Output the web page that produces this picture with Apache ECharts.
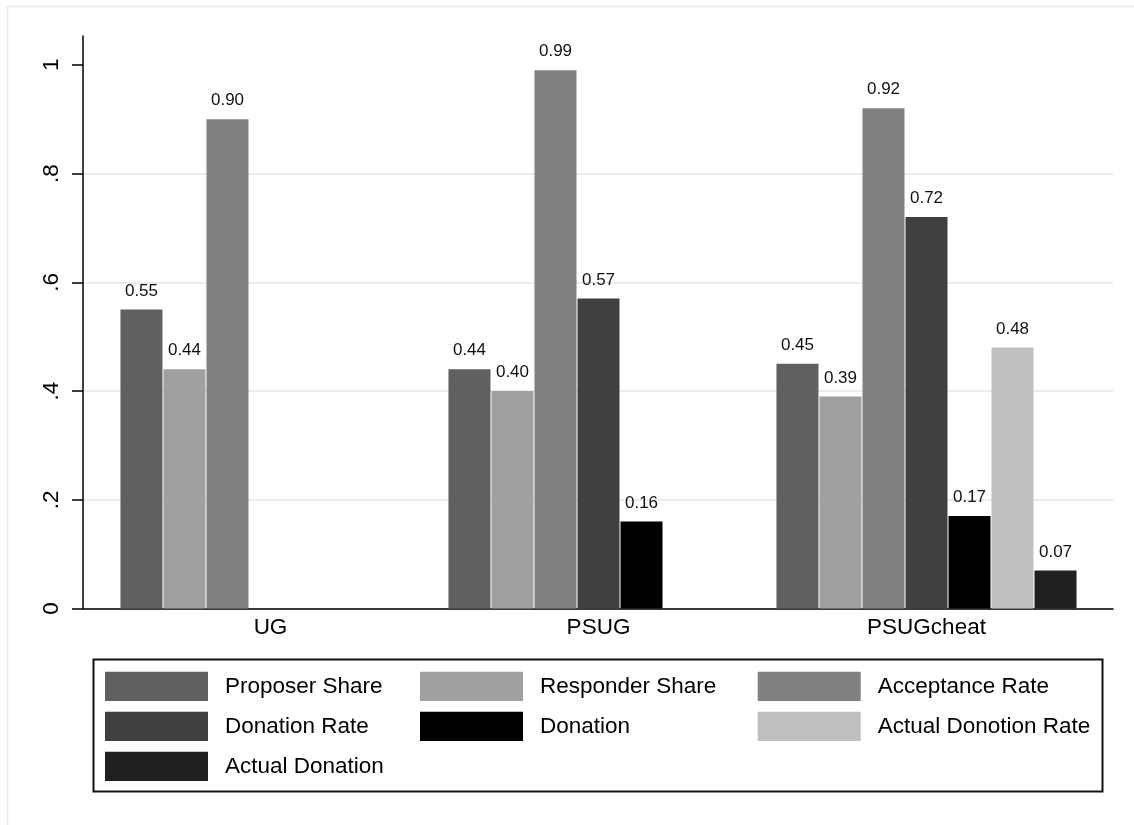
<!DOCTYPE html>
<html>
<head>
<meta charset="utf-8">
<script src="https://cdn.jsdelivr.net/npm/echarts@6.0.0/dist/echarts.min.js"></script>
<style>
html,body{margin:0;padding:0;background:#fff;}
#chart{width:1134px;height:825px;}
</style>
</head>
<body>
<div id="chart"></div>
<script>
// ---- data ----
const categories = ['UG', 'PSUG', 'PSUGcheat'];
const seriesNames = ['Proposer Share', 'Responder Share', 'Acceptance Rate', 'Donation Rate', 'Donation', 'Actual Donotion Rate', 'Actual Donation'];
const proposerShare      = [0.55, 0.44, 0.45];
const responderShare     = [0.44, 0.40, 0.39];
const acceptanceRate     = [0.90, 0.99, 0.92];
const donationRate       = [null, 0.57, 0.72];
const donation           = [null, 0.16, 0.17];
const actualDonotionRate = [null, null, 0.48];
const actualDonation     = [null, null, 0.07];
const yTickValues = [0, 0.2, 0.4, 0.6, 0.8, 1];
const yTickLabels = ['0', '.2', '.4', '.6', '.8', '1'];
const legendColumns = [
  ['Proposer Share', 'Donation Rate', 'Actual Donation'],
  ['Responder Share', 'Donation'],
  ['Acceptance Rate', 'Actual Donotion Rate']
];

// ---- styling ----
const seriesValues = [proposerShare, responderShare, acceptanceRate, donationRate, donation, actualDonotionRate, actualDonation];
const colors = ['#606060', '#a0a0a0', '#808080', '#404040', '#000000', '#c0c0c0', '#202020'];
const FONT = '"Liberation Sans", Arial, Helvetica, sans-serif';
const Y_MAX = 1.053;

const chart = echarts.init(document.getElementById('chart'), null, {renderer: 'canvas'});

const series = seriesNames.map((name, i) => ({
  name: name,
  type: 'bar',
  xAxisIndex: 1,
  yAxisIndex: 1,
  data: seriesValues[i],
  barWidth: 42,
  barGap: '2.4%',
  itemStyle: {color: colors[i]},
  label: {
    show: true,
    position: 'top',
    distance: 10,
    fontFamily: FONT,
    fontSize: 17,
    color: '#111',
    formatter: p => (p.value == null ? '' : Number(p.value).toFixed(2))
  },
  animation: false
}));

const legendLefts = [105, 420, 757.7];
const legends = legendColumns.map((col, i) => ({
  data: col.map(n => ({name: n, icon: 'rect'})),
  orient: 'vertical',
  left: legendLefts[i],
  top: 671.7,
  padding: 0,
  itemWidth: 103,
  itemHeight: 29.3,
  itemGap: 10.7,
  selectedMode: false,
  textStyle: {fontFamily: FONT, fontSize: 22.5, color: '#000', padding: [0, 0, 0, 12]}
}));

const option = {
  backgroundColor: '#fff',
  animation: false,
  color: colors,
  grid: [
    {left: 83, right: 21, top: 36, bottom: 216.5},
    {left: 106.5, right: 43.5, top: 36, bottom: 216.5}
  ],
  xAxis: [
    {
      gridIndex: 0, type: 'value', min: 0, max: 1,
      axisLine: {show: true, onZero: false, lineStyle: {color: '#000', width: 1.5}},
      axisTick: {show: false}, axisLabel: {show: false}, splitLine: {show: false}
    },
    {
      gridIndex: 1, type: 'category', data: categories,
      axisLine: {show: false}, axisTick: {show: false},
      axisLabel: {fontFamily: FONT, fontSize: 22.5, color: '#000', margin: 8}
    }
  ],
  yAxis: [
    {
      gridIndex: 0, type: 'value', min: 0, max: Y_MAX,
      axisLine: {show: true, lineStyle: {color: '#000', width: 1.5}},
      axisTick: {show: true, length: 11, lineStyle: {color: '#000', width: 1.5}, customValues: yTickValues},
      axisLabel: {
        show: true, rotate: 90, margin: 20, fontFamily: FONT, fontSize: 22.5, color: '#000',
        customValues: yTickValues,
        formatter: v => {
          const idx = yTickValues.findIndex(t => Math.abs(t - v) < 1e-6);
          return idx >= 0 ? yTickLabels[idx] : '';
        }
      },
      splitLine: {show: true, showMaxLine: false, lineStyle: {color: '#e4e4e4', width: 1.6}}
    },
    {
      gridIndex: 1, type: 'value', min: 0, max: Y_MAX, show: false,
      splitLine: {show: false}
    }
  ],
  legend: legends,
  graphic: [
    {type: 'rect', silent: true, z: -10, shape: {x: 7.5, y: 6.5, width: 1200, height: 900},
     style: {fill: 'none', stroke: '#ebebeb', lineWidth: 1.5}},
    {type: 'rect', silent: true, shape: {x: 93.5, y: 659.5, width: 1009, height: 132},
     style: {fill: 'none', stroke: '#111', lineWidth: 2}}
  ],
  series: series
};
chart.setOption(option);
</script>
</body>
</html>
